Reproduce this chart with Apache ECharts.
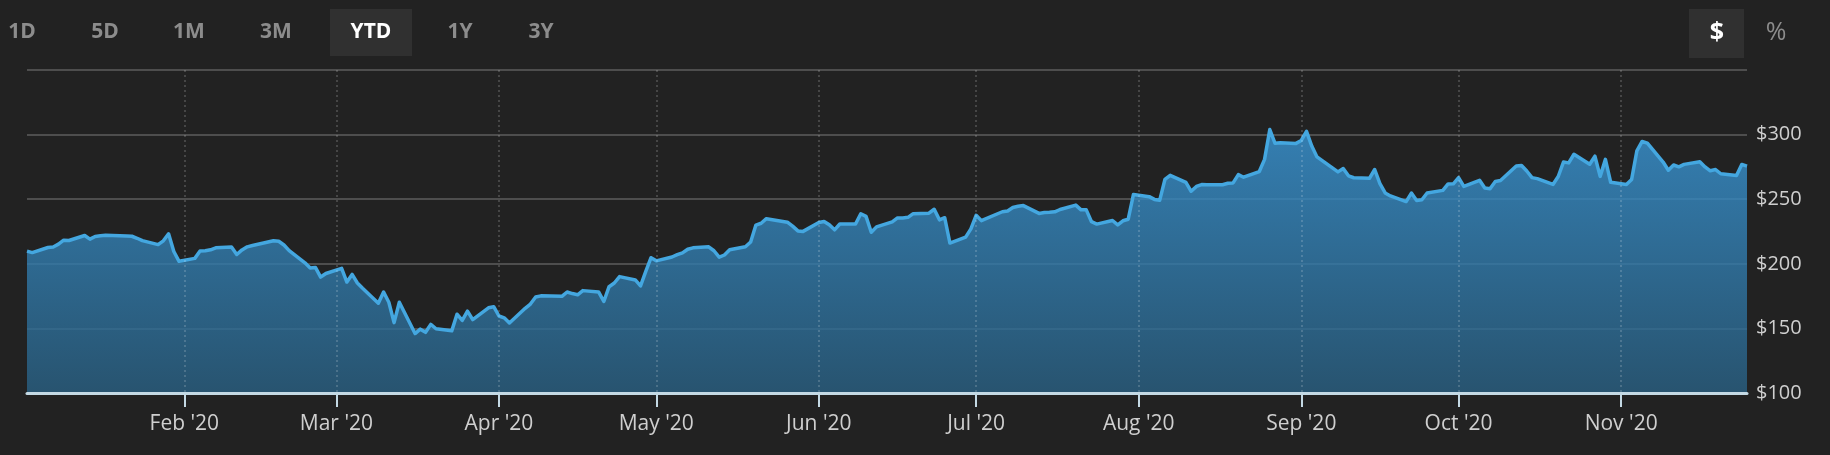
<!DOCTYPE html>
<html>
<head>
<meta charset="utf-8">
<script src="https://cdn.jsdelivr.net/npm/echarts@6.0.0/dist/echarts.min.js"></script>
<style>
  html, body { margin: 0; padding: 0; background: #222222; }
  #chart { width: 1830px; height: 455px; }
</style>
</head>
<body>
<div id="chart"></div>
<script>
// ---- data ----
const year = '2020';
const tradingDays = [
  '01-02','01-03','01-06','01-07','01-08','01-09','01-10','01-13','01-14','01-15','01-16','01-17','01-21','01-22','01-23','01-24','01-27','01-28','01-29','01-30','01-31',
  '02-03','02-04','02-05','02-06','02-07','02-10','02-11','02-12','02-13','02-14','02-18','02-19','02-20','02-21','02-24','02-25','02-26','02-27','02-28',
  '03-02','03-03','03-04','03-05','03-06','03-09','03-10','03-11','03-12','03-13','03-16','03-17','03-18','03-19','03-20','03-23','03-24','03-25','03-26','03-27','03-30','03-31',
  '04-01','04-02','04-03','04-06','04-07','04-08','04-09','04-13','04-14','04-15','04-16','04-17','04-20','04-21','04-22','04-23','04-24','04-27','04-28','04-29','04-30',
  '05-01','05-04','05-05','05-06','05-07','05-08','05-11','05-12','05-13','05-14','05-15','05-18','05-19','05-20','05-21','05-22','05-26','05-27','05-28','05-29',
  '06-01','06-02','06-03','06-04','06-05','06-08','06-09','06-10','06-11','06-12','06-15','06-16','06-17','06-18','06-19','06-22','06-23','06-24','06-25','06-26','06-29','06-30',
  '07-01','07-02','07-06','07-07','07-08','07-09','07-10','07-13','07-14','07-15','07-16','07-17','07-20','07-21','07-22','07-23','07-24','07-27','07-28','07-29','07-30','07-31',
  '08-03','08-04','08-05','08-06','08-07','08-10','08-11','08-12','08-13','08-14','08-17','08-18','08-19','08-20','08-21','08-24','08-25','08-26','08-27','08-28','08-31',
  '09-01','09-02','09-03','09-04','09-08','09-09','09-10','09-11','09-14','09-15','09-16','09-17','09-18','09-21','09-22','09-23','09-24','09-25','09-28','09-29','09-30',
  '10-01','10-02','10-05','10-06','10-07','10-08','10-09','10-12','10-13','10-14','10-15','10-16','10-19','10-20','10-21','10-22','10-23','10-26','10-27','10-28','10-29','10-30',
  '11-02','11-03','11-04','11-05','11-06','11-09','11-10','11-11','11-12','11-13','11-16','11-17','11-18','11-19','11-20','11-23','11-24','11-25'
];
const closes = [
  209.78, 208.67, 212.60, 213.06, 215.22, 218.30, 218.06, 221.91, 219.06, 221.15, 221.77, 222.14, 221.44, 221.32, 219.76, 217.94, 214.87, 217.79, 223.23, 209.53, 201.91,
  204.19, 209.83, 210.11, 210.85, 212.33, 213.06, 207.19, 210.76, 213.14, 214.18, 217.80, 217.49, 214.58, 210.18, 200.72, 196.77, 197.20, 189.75, 192.47,
  196.44, 185.89, 191.76, 185.17, 181.09, 169.50, 178.19, 170.24, 154.47, 170.28, 146.01, 149.42, 146.96, 153.13, 149.73, 148.10, 160.98, 156.21, 163.34, 156.79, 165.95, 166.80,
  159.60, 158.19, 154.18, 165.55, 168.83, 174.28, 175.19, 174.79, 178.17, 176.97, 176.04, 179.24, 178.24, 170.80, 182.28, 185.13, 190.07, 187.50, 182.91, 194.19, 204.71,
  202.27, 205.26, 207.07, 208.47, 211.26, 212.35, 213.18, 210.10, 205.10, 206.81, 210.88, 213.19, 216.88, 229.97, 231.39, 234.91, 232.20, 229.14, 225.46, 225.09,
  231.91, 232.72, 230.16, 226.29, 230.77, 230.80, 238.70, 236.70, 224.43, 228.58, 232.50, 235.48, 235.53, 235.94, 238.79, 239.22, 242.24, 234.02, 235.68, 216.08, 220.64, 227.07,
  237.55, 233.42, 240.28, 240.86, 243.58, 244.50, 245.07, 239.00, 239.73, 239.87, 240.22, 242.03, 245.42, 241.75, 241.75, 232.60, 230.71, 233.50, 230.12, 233.29, 234.50, 253.67,
  251.96, 249.83, 249.12, 265.28, 268.44, 263.00, 256.13, 259.89, 261.30, 261.24, 261.16, 262.34, 262.59, 269.01, 267.01, 271.39, 280.82, 303.91, 293.22, 293.66, 293.20,
  295.44, 302.50, 291.12, 282.73, 271.16, 273.72, 268.09, 266.61, 266.15, 273.00, 262.00, 254.82, 252.53, 248.15, 254.75, 249.02, 249.53, 254.82, 256.82, 261.79, 261.90,
  266.63, 259.94, 264.65, 258.66, 258.12, 263.76, 264.45, 275.75, 276.14, 271.82, 266.72, 265.93, 261.40, 267.56, 278.73, 278.12, 284.79, 277.11, 283.29, 267.67, 280.83, 263.11,
  261.36, 265.30, 287.38, 294.68, 293.41, 278.77, 272.43, 276.48, 275.08, 276.95, 278.96, 275.00, 271.97, 272.94, 269.70, 268.43, 276.92, 275.59
];
const monthNames = ['Jan','Feb','Mar','Apr','May','Jun','Jul','Aug','Sep','Oct','Nov','Dec'];
const yMin = 100, yMax = 350, yStep = 50;
const rangeButtons = ['1D','5D','1M','3M','YTD','1Y','3Y'];
const activeRange = 'YTD';
const unitButtons = ['$','%'];
const activeUnit = '$';

// ---- build ----
const dates = tradingDays.map(d => year + '-' + d);
const axisDays = [];
{
  const start = Date.parse(dates[0] + 'T00:00:00Z');
  const end = Date.parse(dates[dates.length - 1] + 'T00:00:00Z');
  for (let t = start; t <= end; t += 86400000) axisDays.push(new Date(t).toISOString().slice(0, 10));
}
const isMonthStart = (i, v) => v.slice(8) === '01';
const seriesData = dates.map((d, i) => [d, closes[i]]);

// layout of header buttons
const rangeX = [22, 105, 189, 276, 371, 460, 541];
const unitX = [1717, 1776];
const graphics = [];
rangeButtons.forEach((b, i) => {
  if (b === activeRange) {
    graphics.push({ type: 'rect', shape: { x: 330, y: 9, width: 82, height: 47 }, style: { fill: '#303030' } });
  }
  graphics.push({
    type: 'text', x: rangeX[i], y: 32,
    style: { text: b, fill: b === activeRange ? '#ffffff' : '#8c8c8c', font: 'bold 21px "Open Sans", sans-serif', align: 'center', verticalAlign: 'middle' }
  });
});
unitButtons.forEach((b, i) => {
  if (b === activeUnit) {
    graphics.push({ type: 'rect', shape: { x: 1689, y: 9, width: 55, height: 49 }, style: { fill: '#303030' } });
  }
  graphics.push({
    type: 'text', x: unitX[i], y: 33,
    style: { text: b, fill: b === activeUnit ? '#ffffff' : '#8c8c8c', font: (b === activeUnit ? 'bold ' : '') + '25px "Open Sans", sans-serif', align: 'center', verticalAlign: 'middle' }
  });
});

const chart = echarts.init(document.getElementById('chart'), null, { renderer: 'canvas' });
chart.setOption({
  backgroundColor: '#222222',
  animation: false,
  grid: { left: 27, right: 83, top: 70, bottom: 62, containLabel: false },
  xAxis: {
    type: 'category',
    data: axisDays,
    boundaryGap: false,
    z: 3,
    axisLine: { show: true, lineStyle: { color: '#c4d9e4', width: 3 } },
    axisTick: { show: true, interval: isMonthStart, length: 14, lineStyle: { color: '#c4d9e4', width: 2 } },
    axisLabel: {
      interval: isMonthStart,
      formatter: v => monthNames[parseInt(v.slice(5, 7), 10) - 1] + " '" + v.slice(2, 4),
      color: '#cfcfcf', fontFamily: '"Liberation Sans Narrow", "Open Sans", sans-serif', fontSize: 21, margin: 21
    },
    splitLine: { show: true, interval: isMonthStart, lineStyle: { color: 'rgba(255,255,255,0.22)', type: [2, 3], width: 1.5 } }
  },
  yAxis: {
    type: 'value',
    position: 'right',
    min: yMin, max: yMax, interval: yStep,
    axisLine: { show: false },
    axisTick: { show: false },
    axisLabel: {
      formatter: v => v === yMax ? '' : '$' + v,
      color: '#cfcfcf', fontFamily: '"Open Sans", sans-serif', fontSize: 20, margin: 9
    },
    splitLine: { show: true, lineStyle: { color: '#4e4e4e', width: 2 } }
  },
  series: [{
    type: 'line',
    data: seriesData,
    symbol: 'none',
    z: 2,
    lineStyle: { color: '#44a7e0', width: 3.5, join: 'round' },
    areaStyle: {
      opacity: 0.8,
      color: new echarts.graphic.LinearGradient(0, 0, 0, 1, [
        { offset: 0, color: 'rgb(57,150,214)' },
        { offset: 1, color: 'rgb(41,96,131)' }
      ])
    }
  }],
  graphic: graphics
});
</script>
</body>
</html>
